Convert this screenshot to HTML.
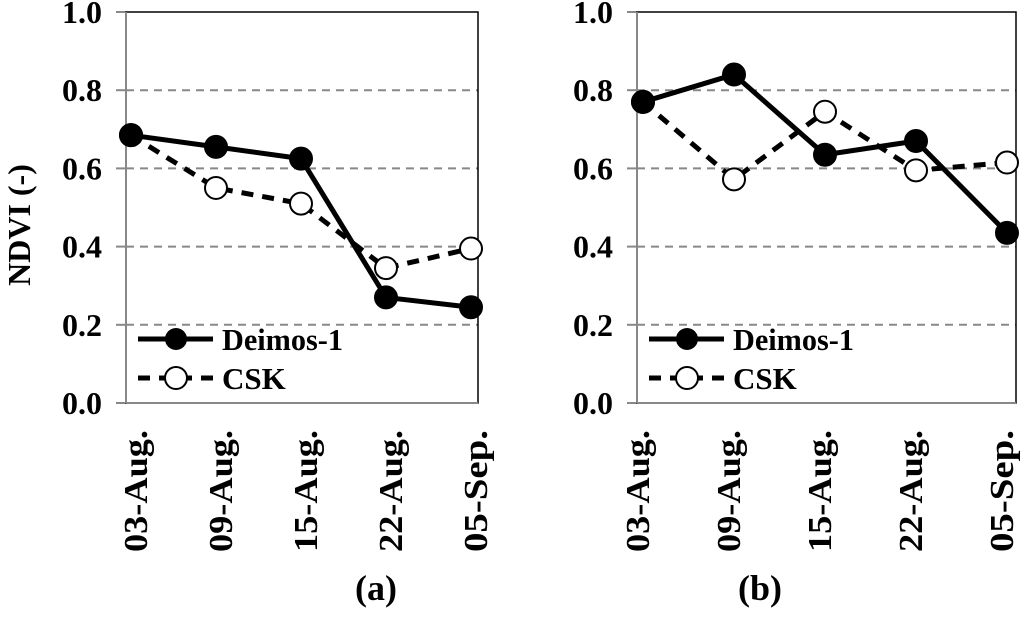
<!DOCTYPE html>
<html><head><meta charset="utf-8"><style>
body{margin:0;background:#fff}
svg text{font-family:"Liberation Serif",serif;font-weight:bold;fill:#000}
</style></head><body>
<svg id="c" width="1024" height="612" viewBox="0 0 1024 612"></svg>
<script>
const categories=["03-Aug.","09-Aug.","15-Aug.","22-Aug.","05-Sep."];
const yTicks=[0,0.2,0.4,0.6,0.8,1.0];
const yTickLabels=["0.0","0.2","0.4","0.6","0.8","1.0"];
const deimosA=[0.685,0.655,0.625,0.27,0.245];
const cskA=[0.685,0.55,0.51,0.345,0.395];
const deimosB=[0.77,0.84,0.635,0.67,0.435];
const cskB=[0.77,0.572,0.745,0.595,0.615];
const NS="http://www.w3.org/2000/svg";
const svg=document.getElementById('c');
function mk(t,a,p){const e=document.createElementNS(NS,t);for(const k in a)e.setAttribute(k,a[k]);(p||svg).appendChild(e);return e;}
function panel(id,left,right,x0,dx,deim,csk,letter,lx,lo){
  const top=12,bot=403;
  const g=mk('g',{});
  
  
  const y=v=>bot-(v/1.0)*(bot-top);
  const x=i=>x0+i*dx;
  yTicks.forEach((t,i)=>{
    if(t>0&&t<1){const l=mk('line',{x1:left,x2:right,y1:y(t),y2:y(t),stroke:'#888','stroke-width':2,'stroke-dasharray':'8,6'},g);
      }
    const tk=mk('line',{x1:left-10,x2:left,y1:y(t),y2:y(t),stroke:'#888','stroke-width':2},g);
    
    const tx=mk('text',{x:left-24,y:y(t)+11,'text-anchor':'end','font-size':32},g);tx.textContent=yTickLabels[i];
    
  });
  const fr=mk('rect',{x:left,y:top,width:right-left,height:bot-top,fill:'none',stroke:'#000','stroke-width':1.5},g);
  
  mk('line',{x1:left,x2:left,y1:top,y2:bot,stroke:'#888','stroke-width':2},g);
  mk('line',{x1:left,x2:right,y1:bot,y2:bot,stroke:'#888','stroke-width':2},g);
  categories.forEach((c,i)=>{
    const tx=mk('text',{transform:`translate(${x(i)+lo},${430}) rotate(-90)`,'text-anchor':'end','font-size':34,textLength:122,lengthAdjust:'spacingAndGlyphs'},g);
    tx.textContent=c;
    
  });
  const series=[[csk,'12,9','#fff','csk'],[deim,'','#000','deimos-1']];
  series.forEach(([d,dash,fill,nm])=>{
    const p=mk('polyline',{points:d.map((v,i)=>x(i)+','+y(v)).join(' '),fill:'none',stroke:'#000','stroke-width':5,'stroke-dasharray':dash},g);
    
    d.forEach((v,i)=>{const c=mk('circle',{cx:x(i),cy:y(v),r:11,fill:fill,stroke:'#000','stroke-width':2},g);
      });
  });
  const lg=mk('g',{},g);
  
  const L=left+12;
  mk('line',{x1:L,x2:L+75,y1:339,y2:339,stroke:'#000','stroke-width':5},lg);
  mk('circle',{cx:L+38,cy:339,r:11,fill:'#000'},lg);
  const t1=mk('text',{x:L+84,y:350,'font-size':31,textLength:121,lengthAdjust:'spacingAndGlyphs'},lg);t1.textContent='Deimos-1';
  
  mk('line',{x1:L,x2:L+75,y1:378,y2:378,stroke:'#000','stroke-width':5,'stroke-dasharray':'12,9'},lg);
  mk('circle',{cx:L+38,cy:378,r:11,fill:'#fff',stroke:'#000','stroke-width':2},lg);
  const t2=mk('text',{x:L+84,y:389,'font-size':31},lg);t2.textContent='CSK';
  
  const pl=mk('text',{x:lx,y:600,'text-anchor':'middle','font-size':36},g);pl.textContent=letter;
  
}
panel('a',126,478,131,85,deimosA,cskA,'(a)',376,16);
panel('b',637,1016,643,91,deimosB,cskB,'(b)',760,6);
const yt=mk('text',{transform:'translate(30,225) rotate(-90)','text-anchor':'middle','font-size':32});
yt.textContent='NDVI (-)';


</script>
</body></html>
